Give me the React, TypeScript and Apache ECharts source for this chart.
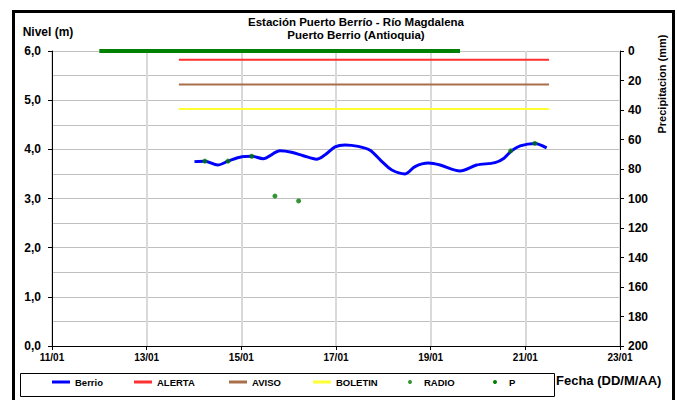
import React, { useEffect, useRef } from "react";
import * as echarts from "echarts";

// ---- Data (x = day of January, fractional) ----
const berrioDays = [14.01, 14.23, 14.5, 14.72, 15.01, 15.22, 15.46, 15.82, 16.06, 16.31, 16.59, 16.77, 16.98, 17.19, 17.47, 17.72, 17.97, 18.18, 18.46, 18.67, 18.95, 19.2, 19.62, 19.97, 20.36, 20.55, 20.71, 20.89, 21.2, 21.45];
const berrioLevels = [3.75, 3.76, 3.68, 3.76, 3.85, 3.86, 3.81, 3.97, 3.94, 3.87, 3.8, 3.89, 4.05, 4.09, 4.06, 3.98, 3.75, 3.58, 3.5, 3.65, 3.72, 3.68, 3.56, 3.68, 3.73, 3.82, 3.97, 4.07, 4.12, 4.03];

const radioDays = [14.23, 14.72, 15.22, 15.71, 16.21, 20.69, 21.2];
const radioLevels = [3.76, 3.76, 3.86, 3.05, 2.95, 3.97, 4.12];

const thresholdNames = ["ALERTA", "AVISO", "BOLETIN"];
const thresholdLevels = [5.82, 5.32, 4.82];
const thresholdColors = ["#ff3030", "#a8704a", "#ffff33"];
const thresholdStartDay = 13.68;
const thresholdEndDay = 21.5;

const pDays = [12.0, 19.62];
const pValues = [0, 0];

const legendNames = ["Berrio", "ALERTA", "AVISO", "BOLETIN", "RADIO", "P"];

const FONT = "'Liberation Sans', Arial, sans-serif";

export default function App() {
  const ref = useRef<HTMLDivElement>(null);

  useEffect(() => {
    if (!ref.current) return;
    const chart = echarts.init(ref.current, undefined, { renderer: "svg" });

    const thresholdSeries = thresholdNames.map((name, i) => ({
      name,
      type: "line",
      yAxisIndex: 0,
      symbol: "none",
      itemStyle: { color: thresholdColors[i] },
      lineStyle: { color: thresholdColors[i], width: 2 },
      data: [
        [thresholdStartDay, thresholdLevels[i]],
        [thresholdEndDay, thresholdLevels[i]],
      ],
    }));

    const legendLefts = [52, 134, 229, 313, 408, 493];
    const legendIcons = ["rect", "rect", "rect", "rect", "circle", "circle"];
    const legends = legendNames.map((name, i) => ({
      left: legendLefts[i],
      top: 377,
      orient: "horizontal",
      padding: 0,
      itemWidth: 18,
      itemHeight: i >= 4 ? 4 : 3,
      selectedMode: false,
      textStyle: { fontFamily: FONT, fontWeight: "bold", fontSize: 9.5, color: "#000" },
      data: [{ name, icon: legendIcons[i] }],
    }));

    chart.setOption({
      animation: false,
      textStyle: { fontFamily: FONT, color: "#000" },
      title: {
        text: "Estación Puerto Berrío - Río Magdalena",
        subtext: "Puerto Berrio (Antioquia)",
        left: 351,
        top: 11,
        textAlign: "center",
        itemGap: 1,
        textStyle: { fontFamily: FONT, fontWeight: "bold", fontSize: 11.5, color: "#000", lineHeight: 12 },
        subtextStyle: { fontFamily: FONT, fontWeight: "bold", fontSize: 11.5, color: "#000", lineHeight: 12 },
      },
      legend: legends,
      grid: { left: 52, right: 57, top: 51, bottom: 54, containLabel: false },
      xAxis: {
        type: "value",
        min: 11,
        max: 23,
        interval: 2,
        axisLine: { show: true, onZero: false, lineStyle: { color: "#000", width: 1 } },
        axisTick: { show: true, length: 4, lineStyle: { color: "#000" } },
        axisLabel: {
          margin: 6,
          fontFamily: FONT,
          fontWeight: "bold",
          fontSize: 10,
          color: "#000",
          formatter: (v: number) => (v < 10 ? "0" : "") + v + "/01",
        },
        splitLine: { show: true, lineStyle: { color: "#d9d9d9", width: 2 } },
      },
      yAxis: [
        {
          type: "value",
          min: 0,
          max: 6,
          interval: 1,
          name: "Nivel (m)",
          nameLocation: "end",
          nameGap: 13,
          nameTextStyle: { fontFamily: FONT, fontWeight: "bold", fontSize: 12, color: "#000", padding: [0, 8, 0, 0] },
          axisLine: { show: true, lineStyle: { color: "#000", width: 1 } },
          axisTick: { show: true, length: 4, lineStyle: { color: "#000" } },
          axisLabel: {
            margin: 11,
            fontFamily: FONT,
            fontWeight: "bold",
            fontSize: 12,
            color: "#000",
            formatter: (v: number) => v.toFixed(1).replace(".", ","),
          },
          splitLine: { show: true, lineStyle: { color: "#c0c0c0", width: 1 } },
          minorTick: { show: false, splitNumber: 2 },
          minorSplitLine: { show: true, lineStyle: { color: "#c0c0c0", width: 1 } },
        },
        {
          type: "value",
          min: 0,
          max: 200,
          interval: 20,
          inverse: true,
          position: "right",
          axisLine: { show: true, lineStyle: { color: "#000", width: 1 } },
          axisTick: { show: true, length: 4, lineStyle: { color: "#000" } },
          axisLabel: {
            margin: 8,
            fontFamily: FONT,
            fontWeight: "bold",
            fontSize: 12,
            color: "#000",
          },
          splitLine: { show: false },
        },
      ],
      series: [
        {
          name: "Berrio",
          type: "line",
          yAxisIndex: 0,
          symbol: "none",
          smooth: 0.3,
          itemStyle: { color: "#0000ff" },
          lineStyle: { color: "#0000ff", width: 3 },
          data: berrioDays.map((d, i) => [d, berrioLevels[i]]),
          z: 3,
        },
        ...thresholdSeries,
        {
          name: "RADIO",
          type: "scatter",
          yAxisIndex: 0,
          symbol: "circle",
          symbolSize: 5,
          itemStyle: { color: "#007a00" },
          data: radioDays.map((d, i) => [d, radioLevels[i]]),
          z: 4,
        },
        {
          name: "P",
          type: "line",
          yAxisIndex: 1,
          symbol: "none",
          clip: false,
          itemStyle: { color: "#008000" },
          lineStyle: { color: "#008000", width: 4 },
          data: pDays.map((d, i) => [d, pValues[i]]),
          z: 4,
        },
      ],
      graphic: [
        {
          type: "rect",
          left: 11,
          top: 9,
          shape: { width: 660, height: 392 },
          style: { fill: "none", stroke: "#000", lineWidth: 3 },
          silent: true,
          z: 100,
        },
        {
          type: "rect",
          left: 18,
          top: 371,
          shape: { width: 534, height: 23 },
          style: { fill: "none", stroke: "#000", lineWidth: 1 },
          silent: true,
        },
        {
          type: "text",
          x: 556,
          y: 380,
          style: {
            text: "Fecha (DD/M/AA)",
            font: `bold 13px ${FONT}`,
            fill: "#000",
            textAlign: "left",
            textVerticalAlign: "middle",
          },
        },
        {
          type: "text",
          x: 662,
          y: 84,
          rotation: Math.PI / 2,
          style: {
            text: "Precipitacion (mm)",
            font: `bold 11px ${FONT}`,
            fill: "#000",
            textAlign: "center",
            textVerticalAlign: "middle",
          },
        },
      ],
    });

    return () => chart.dispose();
  }, []);

  return (
    <div
      ref={ref}
      style={{ position: "fixed", left: 0, top: 0, width: 677, height: 400, background: "#fff" }}
    />
  );
}
